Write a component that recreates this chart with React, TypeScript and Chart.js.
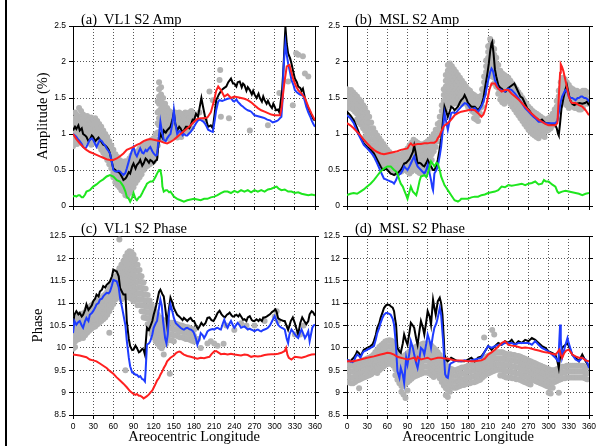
import React, { useEffect, useRef } from "react";
import { Chart, registerables } from "chart.js";

Chart.register(...registerables);
Chart.defaults.font.family = "'Liberation Sans', Arial, sans-serif";

type Pt = [number, number];
type Bin = [number, number[]];

// ---------- ticks ----------
const lsTicks = [0, 30, 60, 90, 120, 150, 180, 210, 240, 270, 300, 330, 360];
const ampTicks = [0, 0.5, 1, 1.5, 2, 2.5];
const phaseTicks = [8.5, 9, 9.5, 10, 10.5, 11, 11.5, 12, 12.5];

// ---------- (a) VL1 S2 Amp ----------
const aBlack: Pt[] = [[0,1.05],[3,1.1],[5,1.07],[8,1.12],[10,1.05],[13,1.08],[15,1.0],[18,0.98],[20,0.96],[23,0.9],[25,0.92],[28,0.98],[30,0.96],[33,0.9],[35,0.92],[38,0.95],[40,0.92],[43,0.88],[45,0.85],[48,0.84],[50,0.82],[53,0.78],[55,0.73],[58,0.6],[60,0.52],[63,0.5],[65,0.48],[68,0.47],[70,0.45],[73,0.4],[75,0.36],[78,0.38],[80,0.41],[83,0.47],[85,0.45],[88,0.55],[90,0.59],[93,0.52],[95,0.57],[98,0.6],[100,0.64],[103,0.56],[105,0.59],[108,0.66],[110,0.64],[113,0.6],[115,0.64],[118,0.62],[120,0.59],[123,0.63],[125,0.64],[127,0.85],[130,1.0],[133,0.95],[135,1.05],[138,1.02],[140,1.05],[143,1.08],[145,1.1],[148,1.2],[150,1.3],[152,1.15],[155,1.05],[158,1.1],[160,1.08],[163,1.02],[165,1.05],[168,1.1],[170,1.1],[173,1.08],[175,1.12],[178,1.2],[180,1.19],[183,1.28],[186,1.24],[188,1.35],[191,1.5],[193,1.4],[196,1.26],[198,1.2],[201,1.1],[205,1.12],[208,1.08],[211,1.3],[213,1.47],[217,1.55],[221,1.61],[225,1.64],[228,1.66],[231,1.72],[235,1.77],[238,1.7],[240,1.7],[243,1.66],[245,1.72],[248,1.73],[251,1.65],[253,1.7],[255,1.68],[258,1.6],[260,1.65],[263,1.61],[266,1.55],[268,1.6],[270,1.55],[273,1.5],[276,1.56],[278,1.5],[281,1.45],[283,1.52],[285,1.47],[288,1.42],[290,1.46],[293,1.4],[296,1.36],[298,1.42],[300,1.38],[302,1.33],[305,1.34],[307,1.3],[309,1.45],[311,1.6],[313,1.9],[315,2.3],[316,2.49],[318,2.25],[320,2.12],[323,2.05],[325,1.98],[328,1.85],[330,1.77],[333,1.72],[335,1.66],[338,1.64],[340,1.6],[342,1.63],[345,1.5],[347,1.43],[350,1.36],[353,1.3],[355,1.26],[358,1.2],[360,1.19]];
const aBlue: Pt[] = [[0,1.0],[3,0.98],[5,0.96],[8,0.92],[10,0.9],[13,0.86],[15,0.82],[18,0.8],[20,0.82],[23,0.88],[25,0.92],[28,0.94],[30,0.92],[33,0.86],[35,0.82],[38,0.88],[40,0.92],[43,0.9],[45,0.87],[48,0.84],[50,0.8],[53,0.76],[55,0.73],[58,0.6],[60,0.5],[63,0.48],[65,0.48],[68,0.49],[70,0.48],[73,0.45],[75,0.43],[78,0.46],[80,0.52],[83,0.62],[85,0.69],[88,0.78],[90,0.82],[93,0.72],[95,0.69],[98,0.76],[100,0.8],[103,0.74],[105,0.73],[108,0.78],[110,0.76],[113,0.8],[115,0.82],[118,0.76],[120,0.73],[123,0.7],[125,0.71],[127,0.9],[130,1.17],[132,1.05],[135,0.92],[138,0.9],[140,0.94],[143,0.98],[145,1.0],[148,1.15],[150,1.33],[152,1.15],[155,1.0],[158,1.04],[160,1.03],[163,0.98],[165,1.0],[168,0.98],[170,0.98],[173,1.01],[175,1.03],[178,1.07],[180,1.1],[183,1.15],[186,1.19],[189,1.2],[191,1.19],[194,1.17],[196,1.15],[199,1.1],[201,1.06],[205,1.04],[208,1.03],[211,1.2],[213,1.33],[216,1.45],[218,1.47],[222,1.46],[225,1.47],[230,1.49],[235,1.5],[238,1.46],[240,1.45],[243,1.48],[245,1.45],[248,1.42],[250,1.4],[253,1.38],[255,1.36],[258,1.34],[260,1.33],[263,1.32],[265,1.31],[268,1.28],[270,1.26],[274,1.25],[278,1.24],[282,1.23],[285,1.22],[289,1.2],[293,1.19],[297,1.16],[300,1.17],[303,1.18],[305,1.19],[308,1.22],[310,1.24],[312,1.5],[313,1.9],[315,2.15],[316,2.26],[318,2.1],[320,1.98],[323,1.85],[325,1.75],[328,1.68],[330,1.61],[333,1.58],[337,1.55],[340,1.54],[342,1.55],[345,1.45],[347,1.38],[350,1.3],[353,1.24],[355,1.19],[358,1.13],[360,1.1]];
const aRed: Pt[] = [[0,1.0],[5,0.93],[10,0.87],[15,0.82],[20,0.78],[25,0.75],[30,0.73],[35,0.71],[40,0.69],[45,0.67],[50,0.65],[55,0.64],[60,0.64],[65,0.66],[70,0.69],[75,0.73],[80,0.78],[85,0.8],[90,0.82],[95,0.85],[100,0.87],[105,0.9],[110,0.92],[115,0.93],[120,0.92],[125,0.91],[130,0.9],[135,0.88],[140,0.87],[145,0.89],[150,0.92],[155,0.96],[160,1.0],[165,1.04],[170,1.08],[175,1.12],[180,1.17],[185,1.21],[190,1.22],[195,1.22],[200,1.23],[205,1.3],[210,1.47],[213,1.6],[216,1.66],[220,1.61],[225,1.52],[230,1.55],[235,1.5],[240,1.52],[245,1.51],[250,1.5],[255,1.49],[260,1.47],[265,1.44],[270,1.4],[275,1.36],[280,1.33],[285,1.31],[290,1.29],[295,1.27],[300,1.26],[305,1.26],[308,1.26],[310,1.35],[312,1.52],[315,1.75],[318,1.94],[322,1.96],[325,1.85],[328,1.75],[332,1.66],[335,1.61],[340,1.56],[345,1.5],[350,1.38],[355,1.28],[360,1.19]];
const aGreen: Pt[] = [[0,0.13],[3,0.14],[5,0.13],[8,0.15],[10,0.15],[13,0.12],[15,0.12],[18,0.16],[20,0.2],[25,0.22],[30,0.27],[35,0.3],[40,0.34],[45,0.37],[50,0.41],[55,0.43],[60,0.41],[63,0.38],[65,0.36],[70,0.34],[73,0.3],[75,0.27],[78,0.2],[80,0.13],[83,0.1],[85,0.06],[88,0.12],[90,0.18],[93,0.1],[95,0.08],[98,0.12],[100,0.13],[103,0.18],[105,0.22],[108,0.27],[110,0.31],[113,0.33],[115,0.34],[118,0.34],[120,0.36],[123,0.41],[125,0.45],[128,0.5],[130,0.5],[132,0.4],[133,0.27],[135,0.2],[138,0.22],[140,0.22],[143,0.19],[145,0.2],[148,0.16],[150,0.13],[155,0.1],[160,0.08],[165,0.06],[170,0.08],[175,0.09],[180,0.1],[185,0.09],[190,0.08],[195,0.1],[200,0.1],[205,0.12],[210,0.13],[215,0.15],[220,0.18],[225,0.2],[230,0.2],[235,0.18],[240,0.21],[245,0.19],[250,0.22],[255,0.2],[260,0.22],[265,0.19],[270,0.22],[275,0.2],[280,0.22],[285,0.2],[290,0.23],[295,0.24],[300,0.26],[303,0.27],[306,0.24],[310,0.22],[315,0.23],[320,0.2],[325,0.2],[330,0.18],[335,0.19],[340,0.17],[345,0.16],[350,0.15],[355,0.16],[360,0.15]];
const aGrey: Bin[] = [[0,[1.22,1.15,1.07,0.99,0.9,0.83]],[3,[1.3,1.18,1.1,1.03,0.95,0.87]],[6,[1.26,1.19,1.12,1.04,0.97,0.86]],[9,[1.36,1.21,1.14,1.06,0.99,0.92]],[12,[1.32,1.24,1.16,1.08,1.0,0.93]],[15,[1.27,1.18,1.1,1.01,0.94,0.86]],[18,[1.22,1.15,1.06,0.98,0.9]],[21,[1.25,1.17,1.09,1.0,0.92]],[24,[1.2,1.13,1.05,0.97,0.88]],[27,[1.23,1.15,1.08,1.0,0.93,0.85]],[30,[1.2,1.12,1.04,0.96,0.88]],[33,[1.22,1.15,1.07,0.99,0.9]],[36,[1.18,1.1,1.02,0.94,0.86]],[39,[1.14,1.07,0.99,0.91,0.83]],[42,[1.1,1.02,0.94,0.86,0.78]],[45,[1.05,0.98,0.9,0.82,0.74]],[48,[1.0,0.93,0.85,0.77,0.69]],[51,[0.96,0.88,0.8,0.72,0.64]],[54,[0.9,0.82,0.74,0.66,0.58]],[57,[0.84,0.76,0.68,0.6,0.52]],[60,[0.78,0.7,0.62,0.54,0.46,0.4]],[63,[0.72,0.64,0.56,0.48,0.4,0.33]],[66,[0.68,0.6,0.52,0.44,0.36,0.29]],[69,[0.64,0.56,0.48,0.4,0.33,0.26]],[72,[0.62,0.54,0.46,0.38,0.3,0.22]],[75,[0.6,0.52,0.44,0.36,0.28,0.2]],[78,[0.62,0.54,0.46,0.38,0.3,0.22,0.15]],[81,[0.6,0.52,0.44,0.36,0.28,0.2,0.14]],[84,[0.66,0.58,0.5,0.42,0.34,0.26,0.18]],[87,[0.7,0.62,0.54,0.46,0.38,0.3,0.22]],[90,[0.74,0.66,0.58,0.5,0.42,0.34,0.26]],[93,[0.72,0.64,0.56,0.48,0.4,0.32]],[96,[0.76,0.68,0.6,0.52,0.44,0.36]],[99,[0.8,0.72,0.64,0.56,0.48,0.4]],[102,[0.84,0.76,0.68,0.6,0.52,0.44]],[105,[0.82,0.74,0.66,0.58,0.5]],[108,[0.86,0.78,0.7,0.62,0.54]],[111,[0.88,0.8,0.72,0.64,0.56]],[114,[0.9,0.82,0.74,0.66,0.58]],[117,[0.92,0.84,0.76,0.68,0.6]],[120,[0.94,0.86,0.78,0.7,0.62]],[123,[1.0,0.92,0.84,0.76,0.68]],[126,[1.45,1.3,1.15,1.02,0.92,0.84]],[128,[1.72,1.62,1.52,1.42,1.32,1.22,1.12,1.02]],[131,[1.65,1.55,1.45,1.35,1.25,1.15,1.05,0.95]],[134,[1.5,1.4,1.3,1.2,1.1,1.0,0.92]],[137,[1.42,1.33,1.24,1.15,1.06,0.97]],[140,[1.36,1.28,1.2,1.12,1.04,0.96]],[143,[1.32,1.24,1.16,1.08,1.0,0.93]],[146,[1.3,1.22,1.14,1.06,0.98]],[149,[1.28,1.2,1.12,1.04,0.96]],[152,[1.3,1.22,1.14,1.06,0.98]],[155,[1.27,1.19,1.11,1.03,0.95]],[158,[1.3,1.22,1.14,1.06,0.98]],[161,[1.28,1.2,1.12,1.04,0.96]],[164,[1.26,1.18,1.1,1.02]],[167,[1.3,1.22,1.14,1.06]],[170,[1.28,1.2,1.12,1.04]],[173,[1.3,1.22,1.14,1.06]],[176,[1.32,1.24,1.16,1.08]],[179,[1.28,1.2]]];
const aGreyExtra: Pt[] = [[188,1.3],[196,1.2],[203,1.59],[208,1.47],[218,1.75],[219,1.89],[220,1.24],[232,1.22],[263,1.05],[290,1.12],[307,1.57],[320,1.73],[327,1.4],[332,2.12],[335,2.1],[342,2.08],[345,1.84],[350,1.8]];

// ---------- (b) MSL S2 Amp ----------
const bBlack: Pt[] = [[0,1.31],[5,1.26],[10,1.19],[15,1.08],[20,0.96],[25,0.87],[30,0.82],[35,0.78],[40,0.73],[45,0.64],[50,0.55],[53,0.5],[55,0.5],[58,0.52],[60,0.5],[63,0.47],[65,0.45],[68,0.44],[70,0.43],[73,0.45],[75,0.45],[78,0.48],[80,0.5],[83,0.55],[85,0.59],[88,0.6],[90,0.62],[93,0.65],[95,0.69],[98,0.75],[100,0.84],[102,0.75],[105,0.59],[108,0.6],[110,0.59],[113,0.56],[115,0.55],[118,0.6],[120,0.64],[123,0.58],[125,0.55],[128,0.5],[130,0.5],[133,0.56],[135,0.64],[138,0.8],[140,0.92],[143,1.2],[145,1.38],[148,1.3],[150,1.24],[153,1.32],[155,1.38],[158,1.36],[160,1.33],[163,1.36],[165,1.38],[168,1.44],[170,1.47],[173,1.5],[175,1.54],[178,1.48],[180,1.43],[185,1.38],[190,1.38],[195,1.33],[200,1.4],[203,1.5],[206,1.68],[209,1.85],[211,1.98],[213,2.15],[215,2.26],[216,2.28],[218,2.12],[220,1.9],[222,1.8],[225,1.68],[228,1.64],[230,1.63],[233,1.6],[236,1.59],[240,1.64],[243,1.66],[246,1.68],[249,1.7],[251,1.66],[255,1.58],[258,1.52],[261,1.5],[265,1.42],[268,1.36],[271,1.33],[275,1.27],[278,1.24],[281,1.22],[284,1.2],[287,1.18],[290,1.2],[293,1.17],[296,1.15],[300,1.15],[303,1.14],[306,1.13],[310,1.12],[312,1.08],[314,1.0],[315,0.98],[317,1.15],[319,1.35],[322,1.5],[325,1.62],[327,1.68],[330,1.55],[332,1.47],[335,1.42],[338,1.4],[342,1.42],[346,1.43],[350,1.42],[354,1.43],[357,1.45],[360,1.4]];
const bBlue: Pt[] = [[0,1.26],[5,1.22],[10,1.15],[15,1.03],[20,0.94],[25,0.85],[30,0.8],[35,0.75],[40,0.69],[45,0.59],[50,0.48],[53,0.42],[55,0.38],[58,0.37],[60,0.36],[63,0.35],[65,0.34],[68,0.33],[70,0.31],[73,0.36],[75,0.41],[78,0.44],[80,0.45],[83,0.5],[85,0.55],[88,0.52],[90,0.5],[93,0.55],[95,0.59],[98,0.65],[100,0.69],[102,0.62],[105,0.55],[108,0.52],[110,0.5],[113,0.47],[115,0.45],[118,0.5],[120,0.57],[123,0.45],[125,0.36],[127,0.25],[128,0.22],[130,0.45],[133,0.5],[135,0.55],[138,0.7],[140,0.82],[143,1.1],[145,1.29],[148,1.15],[150,1.06],[153,1.2],[155,1.29],[158,1.3],[160,1.29],[163,1.3],[165,1.33],[168,1.36],[170,1.38],[173,1.41],[175,1.43],[178,1.42],[180,1.4],[185,1.33],[190,1.36],[195,1.31],[200,1.38],[203,1.45],[206,1.55],[209,1.7],[211,1.78],[213,1.86],[215,1.91],[217,1.88],[220,1.75],[223,1.68],[225,1.63],[228,1.62],[230,1.61],[235,1.59],[240,1.63],[245,1.61],[250,1.56],[255,1.5],[260,1.43],[265,1.36],[270,1.31],[275,1.26],[280,1.22],[285,1.17],[290,1.17],[295,1.15],[300,1.15],[305,1.15],[310,1.15],[313,1.18],[315,1.29],[318,1.45],[320,1.52],[323,1.58],[325,1.61],[328,1.58],[330,1.52],[333,1.5],[335,1.5],[340,1.47],[343,1.5],[345,1.5],[348,1.52],[350,1.52],[353,1.5],[355,1.5],[358,1.48],[360,1.45]];
const bRed: Pt[] = [[0,1.15],[5,1.12],[10,1.08],[15,1.03],[20,0.98],[25,0.92],[30,0.87],[35,0.82],[40,0.78],[45,0.75],[50,0.73],[55,0.72],[60,0.73],[65,0.74],[70,0.75],[75,0.76],[80,0.78],[85,0.79],[90,0.8],[93,0.85],[95,0.87],[98,0.84],[100,0.85],[105,0.86],[110,0.86],[115,0.87],[120,0.87],[125,0.88],[130,0.88],[133,0.9],[135,0.94],[138,0.98],[140,1.03],[143,1.09],[145,1.12],[150,1.15],[155,1.2],[160,1.26],[165,1.29],[170,1.31],[175,1.32],[180,1.33],[185,1.34],[190,1.33],[195,1.29],[200,1.24],[203,1.27],[206,1.35],[209,1.48],[212,1.62],[215,1.7],[218,1.7],[220,1.7],[223,1.65],[225,1.63],[230,1.59],[235,1.61],[240,1.61],[245,1.56],[250,1.52],[255,1.48],[260,1.43],[265,1.38],[270,1.33],[275,1.28],[280,1.24],[285,1.2],[290,1.17],[295,1.14],[300,1.12],[305,1.12],[310,1.12],[313,1.15],[315,1.5],[317,1.85],[318,1.97],[320,1.93],[322,1.87],[326,1.7],[330,1.52],[333,1.45],[335,1.43],[340,1.43],[345,1.4],[350,1.38],[355,1.33],[360,1.26]];
const bGreen: Pt[] = [[0,0.15],[5,0.17],[10,0.18],[15,0.17],[20,0.2],[25,0.23],[30,0.27],[35,0.31],[40,0.36],[45,0.42],[50,0.48],[55,0.52],[60,0.55],[65,0.55],[70,0.5],[73,0.48],[75,0.45],[78,0.36],[80,0.31],[83,0.27],[85,0.22],[88,0.15],[90,0.1],[93,0.2],[95,0.27],[98,0.2],[100,0.18],[103,0.15],[105,0.22],[108,0.35],[110,0.41],[113,0.42],[115,0.43],[118,0.4],[120,0.45],[123,0.55],[125,0.62],[128,0.58],[130,0.55],[133,0.6],[135,0.59],[138,0.5],[140,0.41],[143,0.34],[145,0.29],[148,0.25],[150,0.22],[155,0.15],[160,0.08],[163,0.07],[165,0.06],[168,0.08],[170,0.1],[175,0.1],[180,0.1],[185,0.12],[190,0.13],[195,0.13],[200,0.15],[205,0.16],[210,0.18],[215,0.19],[220,0.2],[225,0.22],[230,0.27],[235,0.26],[240,0.29],[245,0.28],[250,0.29],[255,0.3],[260,0.31],[265,0.29],[270,0.31],[275,0.32],[280,0.34],[285,0.3],[290,0.31],[293,0.36],[296,0.34],[300,0.34],[305,0.3],[310,0.27],[313,0.2],[315,0.18],[320,0.2],[325,0.21],[330,0.2],[335,0.19],[340,0.18],[345,0.17],[350,0.15],[355,0.17],[360,0.18]];
const bGrey: Bin[] = [[0,[1.62,1.55,1.47,1.39]],[3,[1.6,1.52,1.44,1.36]],[6,[1.61,1.53,1.45,1.37]],[9,[1.58,1.5,1.42,1.34]],[12,[1.55,1.47,1.39,1.31]],[15,[1.52,1.44,1.36,1.28,1.2]],[18,[1.48,1.4,1.32,1.24,1.16]],[21,[1.45,1.37,1.29,1.21,1.13]],[24,[1.4,1.32,1.24,1.16,1.08]],[27,[1.36,1.28,1.2,1.12,1.04,0.96]],[30,[1.3,1.22,1.14,1.06,0.98,0.9]],[33,[1.24,1.16,1.08,1.0,0.92,0.85]],[36,[1.16,1.08,1.0,0.92,0.84]],[39,[1.08,1.0,0.92,0.84,0.77]],[42,[1.02,0.94,0.86,0.78,0.7]],[45,[0.98,0.9,0.82,0.74,0.66]],[48,[0.94,0.86,0.78,0.7,0.62]],[51,[0.9,0.82,0.74,0.66,0.58]],[54,[0.86,0.78,0.7,0.62,0.55]],[57,[0.82,0.74,0.66,0.58]],[60,[0.78,0.7,0.62,0.54]],[63,[0.75,0.67,0.59,0.51]],[66,[0.72,0.64,0.56,0.48]],[69,[0.7,0.62,0.54,0.47]],[72,[0.69,0.61,0.53,0.46]],[75,[0.7,0.62,0.54,0.47]],[78,[0.71,0.63,0.55,0.48]],[81,[0.72,0.64,0.56,0.48]],[84,[0.74,0.66,0.58,0.5]],[87,[0.76,0.68,0.6,0.52]],[90,[0.8,0.72,0.64,0.56,0.48]],[93,[0.84,0.76,0.68,0.6,0.52,0.45]],[96,[0.88,0.8,0.72,0.64,0.56,0.48]],[99,[0.92,0.84,0.76,0.68,0.6,0.52]],[102,[0.9,0.82,0.74,0.66,0.58,0.5]],[105,[0.88,0.8,0.72,0.64,0.56,0.48]],[108,[0.86,0.78,0.7,0.62,0.54,0.46]],[111,[0.85,0.77,0.69,0.61,0.53,0.45]],[114,[0.86,0.78,0.7,0.62,0.54,0.46]],[117,[0.88,0.8,0.72,0.64,0.56,0.48]],[120,[0.9,0.82,0.74,0.66,0.58,0.5]],[123,[0.92,0.84,0.76,0.68,0.6,0.52]],[126,[0.96,0.88,0.8,0.72,0.64]],[129,[1.0,0.92,0.84,0.76]],[132,[1.06,0.98,0.9,0.82]],[135,[1.14,1.06,0.98,0.9]],[138,[1.24,1.16,1.08,1.0]],[141,[1.4,1.32,1.24,1.16,1.08]],[144,[1.62,1.54,1.46,1.38,1.3,1.22]],[147,[1.82,1.74,1.66,1.58,1.5,1.42,1.34]],[150,[1.96,1.88,1.8,1.72,1.64,1.56,1.48,1.4]],[153,[1.98,1.9,1.82,1.74,1.66,1.58,1.5,1.42]],[156,[1.94,1.86,1.78,1.7,1.62,1.54,1.46]],[159,[1.9,1.82,1.74,1.66,1.58,1.5,1.42]],[162,[1.86,1.78,1.7,1.62,1.54,1.46]],[165,[1.82,1.74,1.66,1.58,1.5,1.42]],[168,[1.78,1.7,1.62,1.54,1.46]],[171,[1.74,1.66,1.58,1.5,1.42]],[174,[1.7,1.62,1.54,1.46]],[177,[1.66,1.58,1.5,1.42]],[180,[1.62,1.54,1.46,1.38]],[183,[1.6,1.52,1.44,1.36]],[186,[1.56,1.48,1.4,1.32]],[189,[1.54,1.46,1.38,1.3,1.22]],[192,[1.52,1.44,1.36,1.28,1.2]],[195,[1.5,1.42,1.34,1.26,1.18]],[198,[1.52,1.44,1.36,1.28]],[201,[1.62,1.54,1.46,1.38]],[204,[1.8,1.72,1.64,1.56]],[207,[2.02,1.94,1.86,1.78,1.7]],[210,[2.22,2.14,2.06,1.98,1.9,1.82]],[213,[2.32,2.24,2.16,2.08,2.0,1.92,1.84]],[216,[2.28,2.2,2.12,2.04,1.96,1.88,1.8]],[219,[2.18,2.1,2.02,1.94,1.86,1.78,1.7]],[222,[2.06,1.98,1.9,1.82,1.74,1.66]],[225,[1.96,1.88,1.8,1.72,1.64,1.56]],[228,[1.88,1.8,1.72,1.64,1.56,1.48]],[231,[1.84,1.76,1.68,1.6,1.52,1.44]],[234,[1.82,1.74,1.66,1.58,1.5,1.42]],[237,[1.8,1.72,1.64,1.56,1.48]],[240,[1.78,1.7,1.62,1.54,1.46]],[243,[1.74,1.66,1.58,1.5,1.42]],[246,[1.7,1.62,1.54,1.46,1.38]],[249,[1.66,1.58,1.5,1.42,1.34]],[252,[1.62,1.54,1.46,1.38,1.3]],[255,[1.58,1.5,1.42,1.34,1.26]],[258,[1.54,1.46,1.38,1.3,1.22]],[261,[1.5,1.42,1.34,1.26,1.18]],[264,[1.46,1.38,1.3,1.22,1.14]],[267,[1.42,1.34,1.26,1.18,1.1]],[270,[1.38,1.3,1.22,1.14,1.06]],[273,[1.35,1.27,1.19,1.11,1.03]],[276,[1.32,1.24,1.16,1.08,1.0]],[279,[1.3,1.22,1.14,1.06,0.98]],[282,[1.28,1.2,1.12,1.04,0.96]],[285,[1.26,1.18,1.1,1.02,0.94]],[288,[1.24,1.16,1.08,1.0]],[291,[1.22,1.14,1.06,0.98]],[294,[1.2,1.12,1.04,0.96]],[297,[1.2,1.12,1.04]],[300,[1.22,1.14,1.06]],[303,[1.24,1.16,1.08]],[306,[1.28,1.2,1.12]],[309,[1.34,1.26,1.18]],[312,[1.46,1.38,1.3,1.22]],[315,[1.6,1.52,1.44,1.36]],[318,[1.72,1.64,1.56,1.48,1.4]],[321,[1.78,1.7,1.62,1.54,1.46]],[324,[1.76,1.68,1.6,1.52,1.44]],[327,[1.72,1.64,1.56,1.48,1.4]],[330,[1.68,1.6,1.52,1.44,1.36]],[333,[1.64,1.56,1.48,1.4]],[336,[1.62,1.54,1.46,1.38]],[339,[1.6,1.52,1.44,1.36]],[342,[1.6,1.52,1.44,1.36]],[345,[1.58,1.5,1.42,1.34]],[348,[1.58,1.5,1.42,1.34]],[351,[1.6,1.52,1.44,1.36]],[354,[1.6,1.52,1.44]],[357,[1.58,1.5,1.42]]];
const bGreyExtra: Pt[] = [];

// ---------- (c) VL1 S2 Phase ----------
const cBlack: Pt[] = [[0,10.52],[2,10.74],[5,10.82],[8,10.75],[10,10.78],[13,10.7],[15,10.74],[18,10.85],[20,10.97],[23,10.85],[25,10.89],[28,10.95],[30,11.04],[33,11.1],[35,11.19],[38,11.15],[40,11.26],[43,11.3],[45,11.38],[48,11.35],[50,11.41],[53,11.45],[55,11.49],[58,11.6],[60,11.75],[63,11.72],[65,11.71],[68,11.6],[70,11.34],[73,11.25],[75,11.19],[78,11.19],[80,10.6],[83,10.2],[85,10.04],[88,9.95],[90,9.96],[93,10.05],[95,10.0],[98,9.9],[100,9.92],[103,9.98],[105,9.96],[107,9.85],[108,10.07],[110,10.45],[113,10.4],[115,10.48],[118,10.6],[120,10.74],[123,10.9],[125,11.04],[128,11.25],[130,11.3],[133,11.2],[135,11.15],[138,10.8],[140,10.52],[143,10.9],[145,11.12],[148,11.0],[150,10.89],[153,10.8],[155,10.74],[158,10.7],[160,10.67],[163,10.62],[165,10.67],[168,10.63],[170,10.6],[173,10.65],[175,10.67],[178,10.6],[180,10.6],[183,10.5],[186,10.42],[189,10.5],[191,10.56],[194,10.5],[197,10.55],[200,10.67],[203,10.68],[206,10.62],[209,10.6],[212,10.68],[215,10.78],[218,10.83],[221,10.75],[224,10.7],[226,10.68],[229,10.74],[231,10.76],[233,10.79],[236,10.72],[238,10.7],[240,10.71],[243,10.74],[246,10.7],[248,10.75],[251,10.68],[253,10.63],[255,10.64],[258,10.6],[260,10.68],[263,10.71],[266,10.62],[268,10.6],[270,10.6],[273,10.64],[276,10.6],[278,10.64],[281,10.6],[283,10.68],[285,10.68],[288,10.7],[290,10.72],[293,10.75],[296,10.8],[298,10.82],[301,10.86],[303,10.8],[305,10.67],[307,10.64],[310,10.62],[313,10.6],[315,10.6],[318,10.48],[320,10.4],[322,10.5],[324,10.6],[327,10.68],[330,10.55],[332,10.45],[335,10.3],[338,10.55],[341,10.68],[344,10.6],[347,10.53],[350,10.6],[352,10.75],[355,10.82],[357,10.8],[360,10.72]];
const cBlue: Pt[] = [[0,10.33],[2,10.6],[5,10.52],[8,10.58],[10,10.6],[13,10.5],[15,10.45],[18,10.6],[20,10.67],[23,10.6],[25,10.74],[28,10.78],[30,10.82],[33,10.9],[35,10.97],[38,11.0],[40,11.08],[43,11.1],[45,11.15],[48,11.2],[50,11.23],[53,11.22],[55,11.26],[58,11.4],[60,11.52],[63,11.5],[65,11.49],[68,11.35],[70,11.12],[73,10.9],[75,10.74],[78,10.5],[80,10.16],[83,9.78],[85,9.59],[88,9.45],[90,9.44],[93,9.4],[95,9.4],[98,9.35],[100,9.37],[103,9.3],[105,9.29],[107,9.25],[108,9.48],[110,10.07],[113,10.1],[115,10.15],[118,10.3],[120,10.45],[123,10.55],[125,10.6],[128,10.9],[130,11.08],[132,10.95],[134,10.6],[137,10.22],[139,10.1],[141,10.3],[143,10.8],[145,10.97],[148,10.8],[150,10.67],[153,10.55],[155,10.52],[158,10.48],[160,10.45],[163,10.42],[165,10.41],[168,10.44],[170,10.45],[173,10.42],[175,10.41],[178,10.38],[180,10.33],[183,10.2],[185,10.07],[188,10.2],[190,10.33],[193,10.28],[195,10.22],[198,10.3],[200,10.37],[203,10.4],[205,10.41],[208,10.42],[210,10.41],[213,10.44],[215,10.45],[218,10.42],[220,10.41],[223,10.55],[225,10.63],[228,10.5],[230,10.45],[233,10.55],[235,10.6],[238,10.5],[240,10.45],[243,10.52],[245,10.56],[248,10.5],[250,10.45],[253,10.47],[255,10.48],[258,10.44],[260,10.41],[263,10.43],[265,10.41],[268,10.39],[270,10.37],[273,10.4],[275,10.41],[278,10.38],[280,10.37],[283,10.4],[285,10.41],[288,10.43],[290,10.45],[293,10.5],[295,10.56],[298,10.65],[300,10.71],[303,10.6],[305,10.52],[308,10.47],[310,10.45],[313,10.43],[315,10.41],[318,10.2],[320,10.11],[322,10.3],[325,10.41],[328,10.35],[330,10.3],[333,10.25],[335,10.22],[338,10.35],[340,10.41],[343,10.3],[345,10.22],[348,10.3],[350,10.37],[352,10.15],[354,10.3],[356,10.45],[358,10.5],[360,10.52]];
const cRed: Pt[] = [[0,9.85],[10,9.83],[20,9.79],[25,9.74],[30,9.72],[35,9.7],[40,9.65],[45,9.6],[50,9.55],[55,9.48],[60,9.42],[65,9.34],[70,9.27],[75,9.2],[80,9.12],[85,9.03],[90,8.97],[93,8.95],[95,8.97],[98,8.93],[100,8.93],[103,8.9],[105,8.87],[108,8.9],[110,8.92],[113,8.96],[115,9.0],[118,9.05],[120,9.11],[123,9.2],[125,9.27],[128,9.33],[130,9.4],[133,9.48],[135,9.55],[138,9.63],[140,9.7],[145,9.78],[150,9.83],[153,9.88],[155,9.9],[158,9.92],[160,9.91],[163,9.87],[165,9.85],[170,9.82],[175,9.8],[180,9.78],[185,9.76],[190,9.78],[195,9.77],[200,9.79],[203,9.8],[206,9.86],[210,9.92],[213,9.93],[216,9.9],[220,9.86],[225,9.87],[230,9.85],[235,9.87],[240,9.85],[245,9.84],[250,9.83],[255,9.85],[260,9.84],[265,9.8],[270,9.82],[275,9.81],[280,9.82],[285,9.84],[290,9.85],[295,9.86],[300,9.86],[305,9.87],[310,9.89],[315,9.93],[317,10.0],[319,9.85],[321,9.78],[325,9.74],[330,9.8],[335,9.79],[340,9.78],[345,9.8],[350,9.83],[355,9.85],[360,9.86]];
const cGrey: Bin[] = [[0,[10.62,10.49,10.36,10.23,10.1,9.98]],[3,[10.66,10.53,10.4,10.27,10.14,10.02]],[6,[10.7,10.57,10.44,10.31,10.18]],[9,[10.72,10.59,10.46,10.33,10.2]],[12,[10.76,10.63,10.5,10.37,10.24]],[15,[10.74,10.61,10.48,10.35,10.22]],[18,[10.8,10.67,10.54,10.41,10.28]],[21,[10.86,10.73,10.6,10.47,10.34]],[24,[10.9,10.77,10.64,10.51,10.38]],[27,[10.94,10.81,10.68,10.55,10.42]],[30,[10.98,10.85,10.72,10.59,10.46]],[33,[11.0,10.87,10.74,10.61,10.48]],[36,[11.04,10.91,10.78,10.65,10.52]],[39,[11.08,10.95,10.82,10.69,10.56]],[42,[11.12,10.99,10.86,10.73,10.6]],[45,[11.16,11.03,10.9,10.77,10.64]],[48,[11.2,11.07,10.94,10.81,10.68]],[51,[11.26,11.13,11.0,10.87,10.74]],[54,[11.34,11.21,11.08,10.95,10.82,10.34]],[57,[11.42,11.29,11.16,11.03,10.9]],[60,[11.5,11.37,11.24,11.11,10.98]],[63,[11.6,11.47,11.34,11.21,11.08]],[66,[11.7,11.57,11.44,11.31,11.18]],[69,[12.42,11.78,11.65,11.52,11.39,11.26,11.13]],[72,[11.86,11.73,11.6,11.47,11.34,11.21,11.08]],[75,[11.94,11.81,11.68,11.55,11.42,11.29,11.16]],[78,[12.04,11.91,11.78,11.65,11.52,11.39,11.26,11.13,9.5]],[81,[12.12,11.99,11.86,11.73,11.6,11.47,11.34,11.21]],[84,[12.16,12.03,11.9,11.77,11.64,11.51,11.38,11.25,11.12]],[87,[12.14,12.01,11.88,11.75,11.62,11.49,11.36,11.23,11.1]],[90,[12.08,11.95,11.82,11.69,11.56,11.43,11.3,11.17,11.04]],[93,[11.98,11.85,11.72,11.59,11.46,11.33,11.2,11.07]],[96,[11.86,11.73,11.6,11.47,11.34,11.21,11.08,10.95]],[99,[11.74,11.61,11.48,11.35,11.22,11.09,10.96]],[102,[11.6,11.47,11.34,11.21,11.08,10.95,10.82]],[105,[11.46,11.33,11.2,11.07,10.94,10.81,10.68]],[108,[11.32,11.19,11.06,10.93,10.8,10.67]],[111,[11.18,11.05,10.92,10.79,10.66,10.53]],[114,[11.06,10.93,10.8,10.67,10.54,10.41]],[117,[10.96,10.83,10.7,10.57,10.44,10.31]],[120,[10.88,10.75,10.62,10.49,10.36,10.23]],[123,[10.8,10.67,10.54,10.41,10.28,10.15]],[126,[10.74,10.61,10.48,10.35,10.22,10.09]],[129,[10.68,10.55,10.42,10.29,10.16,10.03]],[132,[10.64,10.51,10.38,10.25,10.12,9.99]],[135,[10.62,10.49,10.36,10.23,10.1,9.85]],[138,[10.6,10.47,10.34,10.21,10.08]],[141,[10.58,10.45,10.32,10.19]],[144,[10.56,10.43,10.3,10.17,9.42]],[147,[10.56,10.43,10.3,10.17]],[150,[10.54,10.41,10.28,10.15]],[153,[10.54,10.41,10.28]],[156,[10.52,10.39,10.26]],[159,[10.5,10.37,10.24]],[162,[10.5,10.37,10.24]],[165,[10.48,10.35,10.22]],[168,[10.46,10.33,10.2]],[171,[10.46,10.33,10.2]],[174,[10.44,10.31,10.18]],[177,[10.42,10.29,10.16]],[180,[10.4,10.27,10.14]]];
const cGreyExtra: Pt[] = [[186,10.2],[190,10.0],[200,10.1],[205,10.15],[210,10.1],[215,10.05],[224,10.09],[228,10.5],[240,10.4],[250,10.55],[258,10.5],[270,10.5],[285,10.6],[300,10.7],[303,10.82],[305,10.6],[330,10.3],[338,10.3],[343,10.5]];

// ---------- (d) MSL S2 Phase ----------
const dBlack: Pt[] = [[0,9.7],[3,9.72],[5,9.7],[8,9.75],[10,9.78],[13,9.85],[15,9.92],[18,9.88],[20,9.81],[23,9.9],[25,9.96],[28,9.98],[30,10.0],[33,10.02],[35,10.04],[38,10.08],[40,10.15],[43,10.3],[45,10.45],[48,10.55],[50,10.67],[53,10.8],[55,10.89],[58,10.95],[60,10.97],[63,10.96],[65,10.93],[68,10.9],[70,10.82],[72,10.6],[73,10.52],[75,10.0],[78,9.92],[80,9.89],[83,10.1],[85,10.3],[88,10.15],[90,10.07],[93,10.35],[95,10.56],[98,10.5],[100,10.45],[103,10.2],[105,10.07],[108,10.4],[110,10.6],[113,10.45],[115,10.3],[118,10.6],[120,10.82],[123,10.7],[125,10.52],[128,11.08],[130,10.9],[132,10.74],[135,11.04],[138,11.12],[140,11.0],[142,10.74],[144,10.2],[145,9.85],[148,9.72],[150,9.7],[155,9.78],[160,9.74],[165,9.7],[170,9.7],[175,9.7],[180,9.74],[185,9.78],[190,9.7],[195,9.78],[200,9.81],[205,9.92],[210,10.04],[215,9.96],[220,10.04],[225,10.11],[230,10.07],[235,10.15],[240,10.11],[245,10.18],[250,10.07],[255,10.15],[260,10.11],[265,10.18],[270,10.15],[275,10.22],[280,10.18],[285,10.11],[290,10.04],[295,10.0],[300,9.92],[305,9.89],[310,9.85],[313,9.7],[315,9.55],[317,9.8],[320,10.0],[325,10.07],[328,10.1],[330,10.04],[335,9.85],[340,9.78],[345,9.7],[350,9.85],[355,9.7],[360,9.59]];
const dBlue: Pt[] = [[0,9.74],[3,9.7],[5,9.7],[8,9.68],[10,9.7],[13,9.8],[15,9.85],[18,9.82],[20,9.78],[23,9.88],[25,9.92],[28,9.94],[30,9.96],[33,9.98],[35,10.0],[38,10.02],[40,10.04],[43,10.2],[45,10.33],[48,10.45],[50,10.56],[53,10.68],[55,10.74],[58,10.78],[60,10.78],[63,10.76],[65,10.74],[68,10.65],[70,10.52],[72,10.2],[73,10.0],[75,9.48],[78,9.33],[80,9.55],[83,9.4],[85,9.22],[88,9.78],[90,9.63],[93,9.9],[95,10.15],[98,10.0],[100,9.85],[103,9.65],[105,9.55],[108,9.8],[110,10.0],[113,9.95],[115,9.85],[118,10.1],[120,10.3],[123,10.15],[125,10.0],[128,10.3],[130,10.45],[133,10.55],[135,10.67],[138,10.89],[140,10.74],[143,10.15],[146,9.41],[148,9.35],[150,9.33],[153,9.63],[155,9.66],[157,9.67],[160,9.7],[165,9.71],[170,9.7],[175,9.72],[180,9.7],[185,9.72],[190,9.74],[195,9.76],[200,9.78],[205,9.92],[210,10.04],[215,10.0],[220,10.04],[225,10.07],[230,10.07],[235,10.11],[240,10.11],[245,10.11],[250,10.07],[255,10.11],[260,10.11],[265,10.11],[270,10.11],[275,10.07],[280,10.15],[285,10.07],[290,10.0],[295,9.96],[300,9.92],[305,9.85],[310,9.78],[314,9.7],[315,9.9],[317,10.52],[318,10.2],[320,9.78],[323,9.95],[325,10.07],[328,10.22],[330,10.1],[332,10.0],[335,9.85],[340,9.74],[345,9.7],[350,9.78],[355,9.74],[358,9.65],[360,9.55]];
const dRed: Pt[] = [[0,9.7],[10,9.7],[20,9.74],[30,9.78],[40,9.81],[50,9.85],[55,9.87],[60,9.89],[65,9.88],[70,9.85],[75,9.8],[80,9.78],[85,9.76],[90,9.74],[95,9.76],[100,9.78],[103,9.72],[105,9.8],[110,9.74],[115,9.76],[120,9.78],[125,9.74],[130,9.76],[135,9.78],[140,9.78],[145,9.76],[150,9.76],[160,9.72],[170,9.72],[180,9.7],[190,9.7],[200,9.72],[205,9.76],[210,9.85],[215,9.9],[220,9.96],[225,10.03],[230,10.11],[235,10.15],[240,10.07],[245,10.05],[250,10.04],[255,10.02],[260,10.0],[265,10.01],[270,10.0],[275,9.98],[280,9.96],[285,9.94],[290,9.92],[295,9.9],[300,9.89],[305,9.87],[310,9.85],[313,9.9],[316,9.96],[318,9.85],[320,9.78],[323,9.88],[326,9.94],[330,9.96],[333,9.9],[335,9.85],[340,9.81],[345,9.78],[350,9.78],[355,9.72],[360,9.7]];
const dGrey: Bin[] = [[0,[9.62,9.49,9.36,9.23]],[3,[9.62,9.49,9.36,9.23]],[6,[9.6,9.47,9.34,9.21]],[9,[9.6,9.47,9.34,9.21]],[12,[9.63,9.5,9.37,9.24]],[15,[9.66,9.53,9.4,9.27]],[18,[9.68,9.55,9.42,9.29,9.1]],[21,[9.7,9.57,9.44,9.31]],[24,[9.72,9.59,9.46,9.33]],[27,[9.74,9.61,9.48,9.35]],[30,[9.76,9.63,9.5,9.37]],[33,[9.78,9.65,9.52,9.39]],[36,[9.8,9.67,9.54,9.41]],[39,[9.84,9.71,9.58,9.45]],[42,[9.9,9.77,9.64,9.51]],[45,[9.96,9.83,9.7,9.57,9.44]],[48,[10.02,9.89,9.76,9.63,9.5]],[51,[10.06,9.93,9.8,9.67,9.54]],[54,[10.1,9.97,9.84,9.71,9.58]],[57,[10.14,10.01,9.88,9.75,9.62]],[60,[10.16,10.03,9.9,9.77,9.64]],[63,[10.17,10.04,9.91,9.78,9.65]],[66,[10.16,10.03,9.9,9.77,9.64]],[69,[10.12,9.99,9.86,9.73,9.6]],[72,[10.04,9.91,9.78,9.65,9.52,9.39]],[75,[9.94,9.81,9.68,9.55,9.42,9.29]],[78,[9.86,9.73,9.6,9.47,9.34,9.21]],[81,[9.8,9.67,9.54,9.41,9.28,9.15,9.02]],[84,[9.8,9.67,9.54,9.41,9.28,9.15,8.96]],[87,[9.84,9.71,9.58,9.45,9.32,9.19,8.88]],[90,[9.88,9.75,9.62,9.49,9.36,9.23,9.05]],[93,[9.92,9.79,9.66,9.53,9.4,9.27]],[96,[9.96,9.83,9.7,9.57,9.44,9.31]],[99,[10.0,9.87,9.74,9.61,9.48,9.35]],[102,[10.02,9.89,9.76,9.63,9.5,9.37]],[105,[10.04,9.91,9.78,9.65,9.52,9.39]],[108,[10.06,9.93,9.8,9.67,9.54,9.41]],[111,[10.08,9.95,9.82,9.69,9.56,9.43]],[114,[10.1,9.97,9.84,9.71,9.58,9.45]],[117,[10.1,9.97,9.84,9.71,9.58,9.45]],[120,[10.1,9.97,9.84,9.71,9.58,9.45]],[123,[10.08,9.95,9.82,9.69,9.56,9.43]],[126,[10.04,9.91,9.78,9.65,9.52,9.39]],[129,[10.0,9.87,9.74,9.61,9.48,9.35]],[132,[9.96,9.83,9.7,9.57,9.44]],[135,[9.9,9.77,9.64,9.51,9.38]],[138,[9.84,9.71,9.58,9.45,9.32]],[141,[9.76,9.63,9.5,9.37,9.24]],[144,[9.68,9.55,9.42,9.29,9.16]],[147,[9.62,9.49,9.36,9.23,9.1,8.94]],[150,[9.58,9.45,9.32,9.19,9.06,8.9]],[153,[9.54,9.41,9.28,9.15,9.02]],[156,[9.52,9.39,9.26,9.13]],[159,[9.5,9.37,9.24,9.11]],[162,[9.5,9.37,9.24,9.11]],[165,[9.52,9.39,9.26,9.13]],[168,[9.54,9.41,9.28,9.15]],[171,[9.56,9.43,9.3,9.17]],[174,[9.56,9.43,9.3,9.17]],[177,[9.58,9.45,9.32,9.19]],[180,[9.6,9.47,9.34,9.21]],[183,[9.6,9.47,9.34,9.21]],[186,[9.62,9.49,9.36,9.23]],[189,[9.62,9.49,9.36,9.23]],[192,[9.64,9.51,9.38,9.25]],[195,[9.66,9.53,9.4,9.27]],[198,[9.68,9.55,9.42,9.29]],[201,[9.72,9.59,9.46,9.33]],[204,[9.76,9.63,9.5,9.37,10.23]],[207,[9.8,9.67,9.54,9.41]],[210,[9.82,9.69,9.56,9.43]],[213,[9.84,9.71,9.58,9.45]],[216,[9.86,9.73,9.6,9.47,10.4]],[219,[9.88,9.75,9.62,9.49,10.3]],[222,[9.9,9.77,9.64,9.51]],[225,[9.9,9.77,9.64,9.51]],[228,[9.9,9.77,9.64,9.51,9.38]],[231,[9.9,9.77,9.64,9.51,9.38]],[234,[9.88,9.75,9.62,9.49,9.36]],[237,[9.86,9.73,9.6,9.47,9.34]],[240,[9.86,9.73,9.6,9.47,9.34]],[243,[9.86,9.73,9.6,9.47,9.34]],[246,[9.84,9.71,9.58,9.45,9.32]],[249,[9.84,9.71,9.58,9.45,9.32]],[252,[9.82,9.69,9.56,9.43,9.3]],[255,[9.82,9.69,9.56,9.43,9.3]],[258,[9.8,9.67,9.54,9.41,9.28]],[261,[9.78,9.65,9.52,9.39,9.26]],[264,[9.76,9.63,9.5,9.37,9.24]],[267,[9.74,9.61,9.48,9.35,9.22]],[270,[9.72,9.59,9.46,9.33,9.2]],[273,[9.7,9.57,9.44,9.31,9.18]],[276,[9.68,9.55,9.42,9.29]],[279,[9.66,9.53,9.4,9.27]],[282,[9.64,9.51,9.38,9.25]],[285,[9.62,9.49,9.36,9.23]],[288,[9.6,9.47,9.34,9.21]],[291,[9.58,9.45,9.32,9.19]],[294,[9.56,9.43,9.3,9.17]],[297,[9.54,9.41,9.28,9.15]],[300,[9.52,9.39,9.26,9.13,9.0]],[303,[9.5,9.37,9.24,9.11,8.98]],[306,[9.5,9.37,9.24,9.11]],[309,[9.5,9.37,9.24]],[312,[9.52,9.39,9.26]],[315,[9.54,9.41,9.28,9.0]],[318,[9.56,9.43,9.3]],[321,[9.58,9.45,9.32]],[324,[9.58,9.45,9.32]],[327,[9.6,9.47,9.34]],[330,[9.6,9.47,9.34]],[333,[9.6,9.47,9.34]],[336,[9.6,9.47,9.34]],[339,[9.6,9.47,9.34]],[342,[9.6,9.47,9.34]],[345,[9.6,9.47,9.34]],[348,[9.6,9.47,9.34]],[351,[9.6,9.47,9.34]],[354,[9.58,9.45,9.32]],[357,[9.56,9.43,9.3]]];
const dGreyExtra: Pt[] = [];

// ---------- styling ----------
const BLACK = "#000000";
const BLUE = "#1f3cff";
const RED = "#ff2020";
const GREEN = "#1ee61e";
const GREY = "#b3b3b3";
const GRID = "#555555";
const SERIF = "'Liberation Serif', 'Times New Roman', serif";

type PanelSpec = {
  area: { l: number; t: number; r: number; b: number };
  yRange: [number, number];
  yTicks: number[];
  yTitle?: string;
  yTitlePad?: number;
  xLabels: boolean;
  black: Pt[]; blue: Pt[]; red: Pt[]; green?: Pt[];
  grey: Bin[]; greyExtra: Pt[];
};

const panels: PanelSpec[] = [
  { area: { l: 73, t: 26, r: 315, b: 206 }, yRange: [0, 2.5], yTicks: ampTicks, yTitle: "Amplitude (%)", yTitlePad: 6, xLabels: false, black: aBlack, blue: aBlue, red: aRed, green: aGreen, grey: aGrey, greyExtra: aGreyExtra },
  { area: { l: 347, t: 26, r: 589, b: 206 }, yRange: [0, 2.5], yTicks: ampTicks, xLabels: false, black: bBlack, blue: bBlue, red: bRed, green: bGreen, grey: bGrey, greyExtra: bGreyExtra },
  { area: { l: 73, t: 236, r: 315, b: 415 }, yRange: [8.5, 12.5], yTicks: phaseTicks, yTitle: "Phase", yTitlePad: 1, xLabels: true, black: cBlack, blue: cBlue, red: cRed, grey: cGrey, greyExtra: cGreyExtra },
  { area: { l: 347, t: 236, r: 589, b: 415 }, yRange: [8.5, 12.5], yTicks: phaseTicks, xLabels: true, black: dBlack, blue: dBlue, red: dRed, grey: dGrey, greyExtra: dGreyExtra },
];

const panelTitles = ["(a)  VL1 S2 Amp", "(b)  MSL S2 Amp", "(c)  VL1 S2 Phase", "(d)  MSL S2 Phase"];
const titlePos = [{ x: 81, y: 12 }, { x: 355, y: 12 }, { x: 81, y: 221 }, { x: 355, y: 221 }];

const W = 603, H = 446, Y_W = 45, TICK = 4;

function lineDs(label: string, pts: Pt[], color: string, order: number) {
  return {
    label, order,
    data: pts.map(([x, y]) => ({ x, y })),
    borderColor: color, backgroundColor: color,
    borderWidth: 2, pointRadius: 0, tension: 0, fill: false,
  };
}

function buildConfig(p: PanelSpec): any {
  const xH = p.xLabels ? 31 : TICK;
  const greyPts = [
    ...p.grey.flatMap(([ls, vs]) => vs.map((v) => ({ x: ls, y: v }))),
    ...p.greyExtra.map(([x, y]) => ({ x, y })),
  ];
  const datasets: any[] = [];
  if (p.green) datasets.push(lineDs("green", p.green, GREEN, 0));
  datasets.push(lineDs("red", p.red, RED, 1));
  datasets.push(lineDs("blue", p.blue, BLUE, 2));
  datasets.push(lineDs("black", p.black, BLACK, 3));
  datasets.push({
    label: "observations", order: 4, data: greyPts, showLine: false,
    pointRadius: 3, pointBackgroundColor: GREY, pointBorderWidth: 0, pointBorderColor: GREY,
    borderColor: GREY, backgroundColor: GREY,
  });
  const setTicks = (arr: number[]) => (s: any) => { s.ticks = arr.map((v) => ({ value: v })); };
  return {
    type: "line",
    data: { datasets },
    options: {
      animation: false, responsive: false, events: [],
      layout: { padding: { left: p.area.l - Y_W, right: W - p.area.r - TICK, top: p.area.t, bottom: H - p.area.b - xH } },
      plugins: { legend: { display: false }, tooltip: { enabled: false } },
      scales: {
        x: {
          type: "linear", position: "bottom", min: 0, max: 360,
          afterBuildTicks: setTicks(lsTicks),
          ticks: { display: p.xLabels, color: "#000", font: { size: 8.5 }, padding: 3, maxRotation: 0, autoSkip: false, callback: (v: any) => String(v) },
          grid: { color: GRID, lineWidth: 1, tickLength: TICK, tickColor: "#000", tickBorderDash: [] },
          border: { display: true, color: "#000", width: 1, dash: [1, 2] },
          title: { display: p.xLabels, text: "Areocentric Longitude", color: "#000", font: { family: SERIF, size: 14.5 }, padding: { top: 0, bottom: 0 } },
          afterFit: (s: any) => { s.height = xH; },
        },
        x2: {
          type: "linear", position: "top", min: 0, max: 360,
          afterBuildTicks: setTicks(lsTicks),
          ticks: { display: false },
          grid: { drawOnChartArea: false, drawTicks: false },
          border: { display: true, color: "#000", width: 1 },
          afterFit: (s: any) => { s.height = 0; },
        },
        y: {
          type: "linear", position: "left", min: p.yRange[0], max: p.yRange[1],
          afterBuildTicks: setTicks(p.yTicks),
          ticks: { color: "#000", font: { size: 8.5 }, padding: 3, callback: (v: any) => String(v) },
          grid: { color: GRID, lineWidth: 1, tickLength: TICK, tickColor: "#000", tickBorderDash: [] },
          border: { display: true, color: "#000", width: 1, dash: [1, 2] },
          title: { display: !!p.yTitle, text: p.yTitle || "", color: "#000", font: { family: SERIF, size: 14.5 }, padding: { top: p.yTitlePad || 0, bottom: 0 } },
          afterFit: (s: any) => { s.width = Y_W; },
        },
        yR: {
          type: "linear", position: "right", min: p.yRange[0], max: p.yRange[1],
          afterBuildTicks: setTicks(p.yTicks),
          ticks: { display: false },
          grid: { drawOnChartArea: false, tickLength: TICK, tickColor: "#000", color: "#000", tickBorderDash: [] },
          border: { display: true, color: "#000", width: 1 },
          afterFit: (s: any) => { s.width = TICK; },
        },
      },
    },
  };
}

function Panel({ spec }: { spec: PanelSpec }) {
  const ref = useRef<HTMLCanvasElement>(null);
  useEffect(() => {
    if (!ref.current) return;
    const chart = new Chart(ref.current, buildConfig(spec));
    return () => chart.destroy();
  }, [spec]);
  return (
    <canvas ref={ref} width={W} height={H}
      style={{ position: "absolute", left: 0, top: 0, width: W, height: H }} />
  );
}

export default function App() {
  return (
    <div style={{ position: "absolute", left: 0, top: 0, width: W, height: H, background: "#fff", overflow: "hidden" }}>
      <div style={{ position: "absolute", left: 5, top: 0, width: 2, height: H, background: "#000" }} />
      {panels.map((p, i) => <Panel key={i} spec={p} />)}
      {panelTitles.map((t, i) => (
        <div key={t} style={{ position: "absolute", left: titlePos[i].x, top: titlePos[i].y, font: `14.5px ${SERIF}`, lineHeight: "1", whiteSpace: "pre", color: "#000" }}>{t}</div>
      ))}
    </div>
  );
}
